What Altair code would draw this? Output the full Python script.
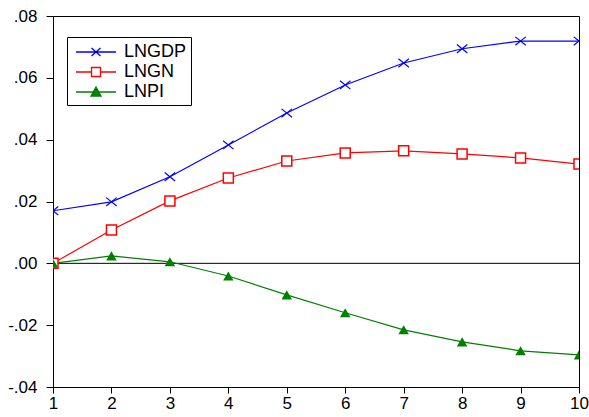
import altair as alt
import pandas as pd

steps = list(range(1, 11))
lngdp = [0.0170, 0.0199, 0.0280, 0.0383, 0.0486, 0.0577, 0.0648, 0.0694, 0.0719, 0.0719]
lngn = [0.0, 0.0108, 0.0202, 0.0276, 0.0331, 0.0357, 0.0364, 0.0354, 0.0341, 0.0321]
lnpi = [0.0, 0.0024, 0.0005, -0.0041, -0.0102, -0.0160, -0.0215, -0.0254, -0.0283, -0.0296]
series_names = ["LNGDP", "LNGN", "LNPI"]
series_colors = ["#0000ff", "#ff0000", "#008000"]
y_ticks = [-0.04, -0.02, 0.0, 0.02, 0.04, 0.06, 0.08]

rows = []
for name, vals in zip(series_names, [lngdp, lngn, lnpi]):
    for s, v in zip(steps, vals):
        rows.append({"step": s, "value": v, "series": name})
df = pd.DataFrame(rows)

FONT = "Liberation Sans"

x_enc = alt.X(
    "step:Q",
    scale=alt.Scale(domain=[1, 10], nice=False, zero=False),
    axis=alt.Axis(values=steps, format="d", title=None, grid=False, tickSize=6,
                  labelPadding=2, labelFontSize=17, labelFont=FONT, labelColor="black",
                  domainColor="black", tickColor="black", labelFlush=False),
)
y_enc = alt.Y(
    "value:Q",
    scale=alt.Scale(domain=[-0.04, 0.08], nice=False, zero=False),
    axis=alt.Axis(values=y_ticks, title=None, grid=False, tickSize=7, labelPadding=9,
                  labelFontSize=17, labelFont=FONT, labelColor="black",
                  domainColor="black", tickColor="black",
                  labelExpr="(datum.value < -0.0001 ? '-' : '') + replace(format(abs(datum.value), '.2f'), '0.', '.')"),
)

base = alt.Chart(df)

zero_rule = alt.Chart(pd.DataFrame({"value": [0.0]})).mark_rule(color="black", strokeWidth=1).encode(y="value:Q")

# legend symbol shapes: a line segment with the series marker in its middle
legend_paths = [
    "M-0.6,0L3.4,0M0.95,-0.4L1.85,0.4M0.95,0.4L1.85,-0.4",
    "M-0.6,0L0.95,0M1.85,0L3.4,0M0.95,-0.45L1.85,-0.45L1.85,0.45L0.95,0.45Z",
    "M-0.6,0L3.4,0M1.4,-0.5L1.9,0.4L0.9,0.4Z",
]
legend_fills = ["transparent", "white", "#008000"]

leg = alt.Legend(orient="none", legendX=14, legendY=21, title=None,
                 labelFont=FONT, labelFontSize=18, labelColor="black",
                 symbolSize=400, symbolStrokeWidth=1.3, symbolOpacity=1,
                 strokeColor="black", fillColor="white", padding=4,
                 labelOffset=31, rowPadding=0)

color_scale = alt.Scale(domain=series_names, range=series_colors)

lines = base.mark_line(strokeWidth=1.2, clip=True).encode(
    x=x_enc, y=y_enc,
    color=alt.Color("series:N", scale=color_scale, legend=leg),
)

legend_layer = base.transform_filter("datum.step > 100").mark_point(strokeWidth=1.3, opacity=1).encode(
    x=x_enc, y=y_enc,
    color=alt.Color("series:N", scale=color_scale, legend=leg),
    shape=alt.Shape("series:N", scale=alt.Scale(domain=series_names, range=legend_paths), legend=leg),
    fill=alt.Fill("series:N", scale=alt.Scale(domain=series_names, range=legend_fills), legend=leg),
)

pts_gdp = base.transform_filter(alt.datum.series == "LNGDP").mark_point(
    shape="M-1,-0.8L1,0.8M-1,0.8L1,-0.8", size=110, color="#0000ff", filled=False,
    strokeWidth=1.2, opacity=1, clip=True).encode(x=x_enc, y=y_enc)
pts_gn = base.transform_filter(alt.datum.series == "LNGN").mark_point(
    shape="square", size=100, filled=True, fill="white", stroke="#ff0000",
    strokeWidth=1.5, opacity=1, clip=True).encode(x=x_enc, y=y_enc)
pts_pi = base.transform_filter(alt.datum.series == "LNPI").mark_point(
    shape="triangle-up", size=110, filled=True, color="#008000", opacity=1, clip=True
).encode(x=x_enc, y=y_enc)

chart = alt.layer(zero_rule, lines, pts_gdp, pts_gn, pts_pi, legend_layer).properties(
    width=526, height=371,
    autosize=alt.AutoSizeParams(type="none"),
    padding={"left": 53, "top": 16, "right": 10, "bottom": 30},
    background="white",
).configure_view(stroke="black", strokeWidth=1)

chart.save("out.html", embed_options={"renderer": "svg", "actions": False})
